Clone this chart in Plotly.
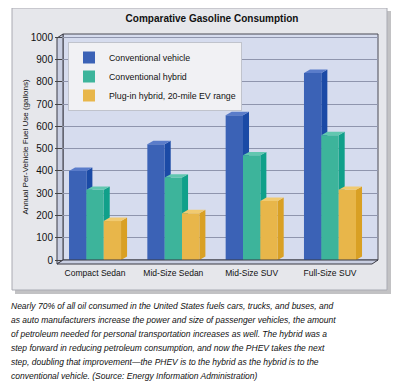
import plotly.graph_objects as go

categories = ["Compact Sedan", "Mid-Size Sedan", "Mid-Size SUV", "Full-Size SUV"]
series_names = ["Conventional vehicle", "Conventional hybrid", "Plug-in hybrid, 20-mile EV range"]
conventional = [400, 520, 650, 840]
hybrid = [315, 370, 470, 560]
plugin = [175, 210, 265, 315]
y_ticks = [0, 100, 200, 300, 400, 500, 600, 700, 800, 900, 1000]

caption_lines = [
    "Nearly 70% of all oil consumed in the United States fuels cars, trucks, and buses, and",
    "as auto manufacturers increase the power and size of passenger vehicles, the amount",
    "of petroleum needed for personal transportation increases as well. The hybrid was a",
    "step forward in reducing petroleum consumption, and now the PHEV takes the next",
    "step, doubling that improvement\u2014the PHEV is to the hybrid as the hybrid is to the",
    "conventional vehicle. (Source: Energy Information Administration)",
]

series_values = [conventional, hybrid, plugin]
front_colors = ["#3b62b6", "#3db49b", "#e8b64a"]
side_colors = ["#1b4aa6", "#10a08a", "#d9a024"]
top_colors = ["#5a7cca", "#62c7b0", "#f1ca70"]

# the page body has an 8px margin; the figure is sized to fit the window
OFF = 8
W, H = 400 - OFF, 386 - OFF
L, R, T, B = 63 - OFF, 22, 34 - OFF, 126
PW, PH = W - L - R, H - T - B
X_RANGE = [-0.409, 3.613]
Y_RANGE = [0, 1015]

bar_w = 0.2214
dx = 0.077
dy = 15.5

SANS = "Liberation Sans, Arial, sans-serif"


def px_x(rx):
    # reference pixel x -> paper coordinate
    return (rx - OFF - L) / PW


def px_y(ry):
    # reference pixel y -> paper coordinate
    return (T + PH - (ry - OFF)) / PH


fig = go.Figure()

# legend-only entries
for name, col in zip(series_names, front_colors):
    fig.add_trace(go.Bar(x=[None], y=[None], name=name, marker=dict(color=col, line=dict(width=0)),
                         showlegend=True))


def poly(xs, ys, color):
    fig.add_trace(go.Scatter(x=xs + [xs[0]], y=ys + [ys[0]], mode="lines", fill="toself",
                             fillcolor=color, line=dict(width=0, color=color),
                             hoverinfo="skip", showlegend=False))


for c in range(len(categories)):
    for i, vals in enumerate(series_values):
        v = vals[c]
        x0 = c - 1.5 * bar_w + i * bar_w
        x1 = x0 + bar_w
        poly([x1, x1, x1 + dx, x1 + dx], [0, v, v + dy, dy], side_colors[i])
        poly([x0, x1, x1, x0], [0, 0, v, v], front_colors[i])
        poly([x0, x1, x1 + dx, x0 + dx], [v, v, v + dy, v + dy], top_colors[i])

shapes = []
shapes.append(dict(type="rect", xref="paper", yref="paper", x0=px_x(15), x1=px_x(391), y0=px_y(294), y1=px_y(11),
                   fillcolor="rgba(120,120,125,0.45)", line=dict(width=0), layer="below"))
shapes.append(dict(type="rect", xref="paper", yref="paper", x0=px_x(12), x1=px_x(387), y0=px_y(290), y1=px_y(8),
                   fillcolor="#e6e7eb", line=dict(width=1, color="#a9aab2"), layer="below"))
shapes.append(dict(type="rect", xref="paper", yref="paper", x0=0, x1=1, y0=0, y1=1,
                   fillcolor="#d6dcee", line=dict(width=1, color="#4a4a55"), layer="below"))
shapes.append(dict(type="path", xref="paper", yref="paper",
                   path=f"M{px_x(57)},{px_y(38)} L{px_x(63)},{px_y(34)} L{px_x(63)},{px_y(260)} L{px_x(57)},{px_y(264)} Z",
                   fillcolor="#c9cfe2", line=dict(width=1, color="#3a3a44"), layer="below"))
shapes.append(dict(type="path", xref="paper", yref="paper",
                   path=f"M{px_x(57)},{px_y(264)} L{px_x(63)},{px_y(260)} L{px_x(378)},{px_y(260)} L{px_x(372)},{px_y(264)} Z",
                   fillcolor="#c9cfe2", line=dict(width=1, color="#3a3a44"), layer="above"))
shapes.append(dict(type="rect", xref="paper", yref="paper", x0=px_x(71), x1=px_x(236), y0=px_y(106), y1=px_y(45),
                   fillcolor="rgba(90,90,100,0.35)", line=dict(width=0), layer="above"))

annotations = []
for k, line in enumerate(caption_lines):
    annotations.append(dict(text=line, xref="paper", yref="paper", x=px_x(9), y=px_y(306 + 14 * k),
                            xanchor="left", yanchor="middle", showarrow=False,
                            font=dict(family=SANS, size=8.5, color="#111", style="italic")))

fig.update_layout(
    width=W, height=H,
    margin=dict(l=L, r=R, t=T, b=B),
    paper_bgcolor="white",
    plot_bgcolor="rgba(0,0,0,0)",
    showlegend=True,
    title=dict(text="<b>Comparative Gasoline Consumption</b>", x=(212 - OFF) / W, xanchor="center",
               y=1 - (18 - OFF) / H, yanchor="middle", font=dict(family=SANS, size=10, color="#111")),
    xaxis=dict(range=X_RANGE, tickvals=list(range(len(categories))), ticktext=categories,
               showgrid=False, zeroline=False, showline=False, ticks="", tickangle=0,
               ticklabelstandoff=6,
               tickfont=dict(family=SANS, size=8.5, color="#111"), fixedrange=True),
    yaxis=dict(range=Y_RANGE, tickvals=y_ticks, showgrid=True, gridcolor="#8f95ad", gridwidth=1,
               zeroline=False, showline=False, ticks="outside", ticklen=7, tickcolor="#444",
               tickfont=dict(family=SANS, size=10, color="#111"),
               title=dict(text="Annual Per-Vehicle Fuel Use (gallons)", standoff=0,
                          font=dict(family=SANS, size=8, color="#111")), fixedrange=True),
    legend=dict(x=px_x(68), y=px_y(42), xanchor="left", yanchor="top",
                bgcolor="#f1f1f4", bordercolor="#c0c3cc", borderwidth=1,
                font=dict(family=SANS, size=8.8, color="#111"), tracegroupgap=0,
                itemwidth=30),
    shapes=shapes,
    annotations=annotations,
    bargap=0,
)

fig.write_html("out.html")
